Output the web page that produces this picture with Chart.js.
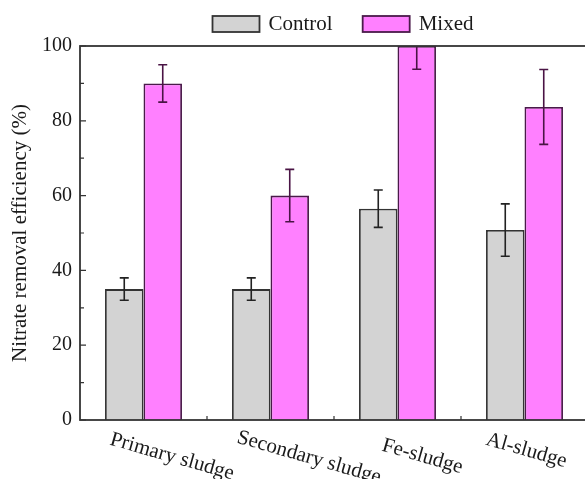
<!DOCTYPE html>
<html>
<head>
<meta charset="utf-8">
<script src="https://cdn.jsdelivr.net/npm/chart.js@4.4.0/dist/chart.umd.min.js"></script>
<style>
  html, body { margin: 0; padding: 0; background: #fff; overflow: hidden; }
  #wrap { position: relative; width: 600px; height: 479px; }
</style>
</head>
<body>
<div id="wrap"><canvas id="chart"></canvas></div>
<script>
// --- Data ---
const categories = ['Primary sludge', 'Secondary sludge', 'Fe-sludge', 'Al-sludge'];
const seriesNames = ['Control', 'Mixed'];
const controlValues = [35, 35, 56.5, 50.8];
const controlErrors = [3, 3, 5, 7];
const mixedValues = [90, 60, 100, 83.7];
const mixedErrors = [5, 7, 6.2, 10];
const yTicks = [0, 20, 40, 60, 80, 100];

const SERIF = "'Liberation Serif', 'Times New Roman', serif";

// small hand nudges for the slanted category labels (dx from bar-group centre, dy below axis)
const labelNudge = [[-30, 9], [-30, 7], [-12, 15], [-35, 9]];

// --- Drawing extras: frame, inward ticks, error bars, legend, slanted labels ---
const extrasPlugin = {
  id: 'extras',
  afterDatasetsDraw(chart) {
    const { ctx, chartArea: a, scales: { x, y } } = chart;

    // error bars, clipped to the plot frame
    ctx.save();
    ctx.beginPath();
    ctx.rect(a.left, a.top, a.right - a.left, a.bottom - a.top);
    ctx.clip();
    chart.data.datasets.forEach((ds, di) => {
      const meta = chart.getDatasetMeta(di);
      ctx.strokeStyle = ds.errColor;
      ctx.lineWidth = 1.6;
      meta.data.forEach((bar, i) => {
        const hi = y.getPixelForValue(ds.data[i] + ds.errors[i]);
        const lo = y.getPixelForValue(ds.data[i] - ds.errors[i]);
        ctx.beginPath();
        ctx.moveTo(bar.x, hi); ctx.lineTo(bar.x, lo);
        ctx.moveTo(bar.x - 4.5, hi); ctx.lineTo(bar.x + 4.5, hi);
        ctx.moveTo(bar.x - 4.5, lo); ctx.lineTo(bar.x + 4.5, lo);
        ctx.stroke();
      });
    });
    ctx.restore();

    ctx.save();
    // frame
    ctx.strokeStyle = '#333';
    ctx.lineWidth = 1.8;
    ctx.strokeRect(a.left, a.top, a.right - a.left, a.bottom - a.top);

    // y ticks, pointing inward
    ctx.lineWidth = 1.2;
    ctx.beginPath();
    for (let v = 0; v <= 100; v += 10) {
      const py = y.getPixelForValue(v);
      const len = v % 20 === 0 ? 6 : 4;
      ctx.moveTo(a.left, py); ctx.lineTo(a.left + len, py);
    }
    // x ticks between groups
    for (let i = 0; i < categories.length - 1; i++) {
      const px = (x.getPixelForValue(i) + x.getPixelForValue(i + 1)) / 2;
      ctx.moveTo(px, a.bottom); ctx.lineTo(px, a.bottom - 4);
    }
    ctx.stroke();

    // slanted category labels
    ctx.fillStyle = '#1a1a1a';
    ctx.font = '21px ' + SERIF;
    ctx.textAlign = 'left';
    ctx.textBaseline = 'top';
    categories.forEach((lab, i) => {
      const [dx, dy] = labelNudge[i];
      ctx.save();
      ctx.translate(x.getPixelForValue(i) + dx, a.bottom + dy);
      ctx.rotate(16 * Math.PI / 180);
      ctx.fillText(lab, 0, 0);
      ctx.restore();
    });

    // legend across the top
    ctx.font = '21px ' + SERIF;
    ctx.textBaseline = 'middle';
    const boxW = 47, boxH = 16, gapText = 9, gapItem = 30;
    const items = chart.data.datasets.map(ds => ({ ds, w: boxW + gapText + ctx.measureText(ds.label).width }));
    const total = items.reduce((s, it) => s + it.w, 0) + gapItem * (items.length - 1);
    let lx = 343 - total / 2;
    const ly = 16;
    items.forEach(it => {
      ctx.fillStyle = it.ds.backgroundColor;
      ctx.fillRect(lx, ly, boxW, boxH);
      ctx.strokeStyle = it.ds.borderColor;
      ctx.lineWidth = 1.8;
      ctx.strokeRect(lx, ly, boxW, boxH);
      ctx.fillStyle = '#1a1a1a';
      ctx.fillText(it.ds.label, lx + boxW + gapText, ly + boxH / 2);
      lx += it.w + gapItem;
    });
    ctx.restore();
  }
};

new Chart(document.getElementById('chart'), {
  type: 'bar',
  data: {
    labels: categories,
    datasets: [
      {
        label: seriesNames[0],
        data: controlValues,
        errors: controlErrors,
        errColor: '#222',
        backgroundColor: '#d3d3d3',
        borderColor: '#333',
        borderWidth: 1.8,
      },
      {
        label: seriesNames[1],
        data: mixedValues,
        errors: mixedErrors,
        errColor: '#4a1445',
        backgroundColor: '#ff80ff',
        borderColor: '#4a1a4a',
        borderWidth: 1.8,
      },
    ],
  },
  options: {
    responsive: true,
    maintainAspectRatio: false,
    animation: false,
    events: [],
    categoryPercentage: 0.606,
    barPercentage: 1.0,
    layout: { padding: { left: 0, top: 46, right: 12, bottom: 59 } },
    plugins: {
      legend: { display: false },
      tooltip: { enabled: false },
    },
    scales: {
      x: {
        offset: true,
        grid: { display: false, drawTicks: false },
        border: { display: false },
        ticks: { display: false },
        afterFit: (s) => { s.height = 0; },
      },
      y: {
        min: 0,
        max: 100,
        grid: { display: false, drawTicks: false, tickLength: 0 },
        border: { display: false },
        afterBuildTicks: (s) => { s.ticks = yTicks.map(v => ({ value: v })); },
        afterFit: (s) => { s.width = 80; },
        ticks: {
          padding: 8,
          color: '#1a1a1a',
          font: { family: SERIF, size: 20 },
        },
        title: {
          display: true,
          text: 'Nitrate removal efficiency (%)',
          color: '#1a1a1a',
          font: { family: SERIF, size: 21 },
          padding: { top: 8, bottom: 0 },
        },
      },
    },
  },
  plugins: [extrasPlugin],
});
</script>
</body>
</html>
